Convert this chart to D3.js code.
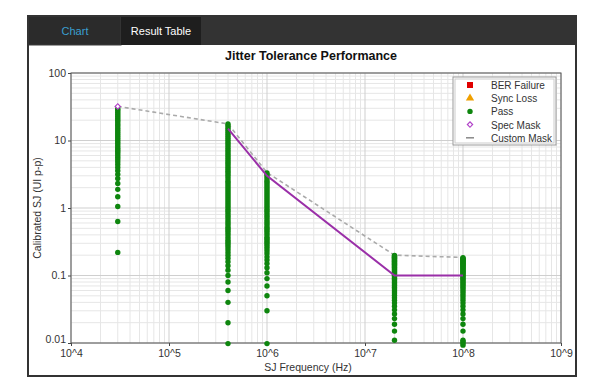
<!DOCTYPE html>
<html><head><meta charset="utf-8">
<script src="https://cdn.jsdelivr.net/npm/d3@7"></script>
<style>
html,body{margin:0;padding:0;background:#fff;}
text{font-family:"Liberation Sans",Arial,sans-serif;}
</style></head>
<body><svg id="c" width="601" height="383"></svg>
<script>
// ---- data ----
const frequencies = [3e4, 4e5, 1e6, 2e7, 1e8];
const passCol1 = [0.22,0.63,1.05,1.47,1.89,2.31,2.73,3.15,3.57,3.99,4.41,4.83,5.25,5.67,6.09,6.51,6.93,7.35,7.8,8.4,9,9.6,10.3,11,11.8,12.6,13.5,14.4,15.4,16.5,17.6,18.8,20,21.4,22.9,24.5,26.2,28,29.6];
const passCol2 = [0.0098,0.02,0.04,0.06,0.08,0.10,0.12,0.14,0.16,0.18,0.20,0.22,0.24,0.26,0.28,0.30,0.32,0.34,0.37,0.4,0.43,0.46,0.49,0.52,0.56,0.6,0.64,0.69,0.74,0.79,0.85,0.91,0.97,1.04,1.11,1.19,1.27,1.36,1.46,1.56,1.67,1.79,1.92,2.05,2.2,2.35,2.5,2.7,2.9,3.1,3.3,3.5,3.75,4,4.3,4.6,4.9,5.25,5.6,6,6.4,6.85,7.3,7.8,8.4,9,9.6,10.3,11,11.8,12.6,13.5,14.4,15.4,16.5,17.6];
const passCol3 = [0.0098,0.03,0.05,0.07,0.09,0.11,0.13,0.15,0.17,0.19,0.21,0.23,0.25,0.27,0.29,0.31,0.33,0.35,0.37,0.4,0.43,0.46,0.49,0.52,0.56,0.6,0.64,0.69,0.74,0.79,0.85,0.91,0.97,1.04,1.11,1.19,1.27,1.36,1.46,1.56,1.67,1.79,1.92,2.05,2.2,2.35,2.5,2.7,2.9,3.1,3.3];
const passCol4 = [0.011,0.015,0.019,0.023,0.027,0.031,0.035,0.039,0.043,0.047,0.051,0.055,0.059,0.063,0.067,0.071,0.075,0.079,0.083,0.087,0.091,0.095,0.099,0.103,0.107,0.111,0.115,0.119,0.123,0.127,0.131,0.135,0.139,0.143,0.147,0.151,0.155,0.159,0.163,0.167,0.171,0.175,0.179,0.183,0.187,0.191,0.195,0.199];
const passCol5 = [0.0093,0.0099,0.0105,0.011,0.015,0.019,0.023,0.027,0.031,0.035,0.039,0.043,0.047,0.051,0.055,0.059,0.063,0.067,0.071,0.075,0.079,0.083,0.087,0.091,0.095,0.099,0.103,0.107,0.111,0.115,0.119,0.123,0.127,0.131,0.135,0.139,0.143,0.147,0.151,0.155,0.159,0.163,0.167,0.171,0.175,0.179,0.183];
const passColumns = [passCol1, passCol2, passCol3, passCol4, passCol5];
const specMask = [32, 17.6, 3.35, 0.2, 0.185];
const customFreq = [4e5, 1e6, 2e7, 1e8];
const customMask = [15, 3, 0.1, 0.1];
const yTicks = [100, 10, 1, 0.1, 0.01];
const yTickLabels = ["100", "10", "1", "0.1", "0.01"];
const xTicks = [1e4, 1e5, 1e6, 1e7, 1e8, 1e9];
const xTickLabels = ["10^4", "10^5", "10^6", "10^7", "10^8", "10^9"];
const legendItems = ["BER Failure", "Sync Loss", "Pass", "Spec Mask", "Custom Mask"];
const tabs = ["Chart", "Result Table"];

// ---- drawing ----
const svg = d3.select("#c");
const L = 71, R = 561, T = 73, B = 343;
const x = d3.scaleLog().domain([1e4, 1e9]).range([L, R]);
const y = d3.scaleLog().domain([0.01, 100]).range([B, T]);

// frame and tabs
svg.append("rect").attr("x", 28).attr("y", 16).attr("width", 548).attr("height", 29).attr("fill", "#333");
svg.append("rect").attr("x", 28).attr("y", 16).attr("width", 93).attr("height", 29).attr("fill", "#2b2b2b").attr("stroke", "#3c3c3c");
svg.append("rect").attr("x", 121).attr("y", 16).attr("width", 80).attr("height", 29).attr("fill", "#1e1e1e");
svg.append("text").attr("x", 75).attr("y", 35).attr("text-anchor", "middle").attr("font-size", 11).attr("fill", "#3a9fd0").text(tabs[0]);
svg.append("text").attr("x", 161).attr("y", 35).attr("text-anchor", "middle").attr("font-size", 11).attr("fill", "#fff").text(tabs[1]);
svg.append("rect").attr("x", 28).attr("y", 16).attr("width", 548).attr("height", 360).attr("fill", "none").attr("stroke", "#333").attr("stroke-width", 2);

// title
svg.append("text").attr("x", 311).attr("y", 60).attr("text-anchor", "middle").attr("font-size", 12.5).attr("font-weight", "bold").attr("fill", "#111").text("Jitter Tolerance Performance");

// grid
const g = svg.append("g");
const minorX = [], minorY = [];
for (let e = 4; e < 9; e++) for (let m = 2; m <= 9; m++) minorX.push(m * Math.pow(10, e));
for (let e = -2; e < 2; e++) for (let m = 2; m <= 9; m++) minorY.push(m * Math.pow(10, e));
g.selectAll(".mx").data(minorX).join("line").attr("x1", d => x(d)).attr("x2", d => x(d)).attr("y1", T).attr("y2", B).attr("stroke", "#e6e6e6");
g.selectAll(".my").data(minorY).join("line").attr("y1", d => y(d)).attr("y2", d => y(d)).attr("x1", L).attr("x2", R).attr("stroke", "#e6e6e6");
g.selectAll(".Mx").data(xTicks).join("line").attr("x1", d => x(d)).attr("x2", d => x(d)).attr("y1", T).attr("y2", B).attr("stroke", "#cfcfcf");
g.selectAll(".My").data(yTicks).join("line").attr("y1", d => y(d)).attr("y2", d => y(d)).attr("x1", L).attr("x2", R).attr("stroke", "#cfcfcf");

// axes
const xAxis = d3.axisBottom(x).tickValues(xTicks).tickFormat((d, i) => xTickLabels[i]).tickSize(3).tickPadding(4);
const yAxis = d3.axisLeft(y).tickValues(yTicks).tickFormat((d, i) => yTickLabels[i]).tickSize(3).tickPadding(2);
const ax = svg.append("g").attr("transform", `translate(0,${B})`).call(xAxis);
const ay = svg.append("g").attr("transform", `translate(${L},0)`).call(yAxis);
[ax, ay].forEach(a => {
  a.select(".domain").remove();
  a.selectAll("line").attr("stroke", "#444");
  a.selectAll("text").attr("font-size", 10.5).attr("fill", "#333").attr("font-family", "'Liberation Sans',Arial,sans-serif");
});
ay.selectAll("text").filter((d) => d === 0.01).attr("dy", "-0.05em");
svg.append("rect").attr("x", L).attr("y", T).attr("width", R - L).attr("height", B - T).attr("fill", "none").attr("stroke", "#555");

svg.append("text").attr("x", 308).attr("y", 371).attr("text-anchor", "middle").attr("font-size", 10.5).attr("fill", "#333").text("SJ Frequency (Hz)");
svg.append("text").attr("transform", "translate(41,208) rotate(-90)").attr("text-anchor", "middle").attr("font-size", 10.5).attr("fill", "#333").text("Calibrated SJ (UI p-p)");

// spec mask dashed
const line = d3.line().x(d => x(d[0])).y(d => y(d[1]));
svg.append("path").attr("d", line(frequencies.map((f, i) => [f, specMask[i]]))).attr("fill", "none").attr("stroke", "#aaa").attr("stroke-width", 1.6).attr("stroke-dasharray", "4,3");

// pass points
const pts = [];
passColumns.forEach((col, i) => col.forEach(v => pts.push([frequencies[i], v])));
svg.append("g").selectAll("circle").data(pts).join("circle").attr("cx", d => x(d[0])).attr("cy", d => y(d[1])).attr("r", 2.7).attr("fill", "#0e860e");

// custom mask solid
svg.append("path").attr("d", line(customFreq.map((f, i) => [f, customMask[i]]))).attr("fill", "none").attr("stroke", "#9a2fa8").attr("stroke-width", 2);

// spec mask diamonds (open, square rotated)
const dsym = d3.symbol().type(d3.symbolSquare).size(14);
svg.append("g").selectAll("path").data([[frequencies[0], specMask[0]]]).join("path")
  .attr("d", dsym).attr("transform", d => `translate(${x(d[0])},${y(d[1])}) rotate(45)`).attr("fill", "#fff").attr("stroke", "#b040c8").attr("stroke-width", 1.2);

// legend
const lg = svg.append("g");
lg.append("rect").attr("x", 453).attr("y", 77).attr("width", 103).attr("height", 68).attr("fill", "#fff").attr("stroke", "#999");
lg.append("rect").attr("x", 455).attr("y", 79).attr("width", 99).attr("height", 64).attr("fill", "none").attr("stroke", "#ccc");
legendItems.forEach((t, i) => {
  const cy = 85 + i * 13.2;
  lg.append("text").attr("x", 491).attr("y", cy + 4).attr("font-size", 10).attr("fill", "#333").text(t);
});
const mx = 470;
lg.append("rect").attr("x", mx - 3).attr("y", 85 - 3).attr("width", 6).attr("height", 6).attr("fill", "#e00000");
lg.append("path").attr("d", d3.symbol().type(d3.symbolTriangle).size(30)).attr("transform", `translate(${mx},${85 + 13.2})`).attr("fill", "#f0a000");
lg.append("circle").attr("cx", mx).attr("cy", 85 + 26.4).attr("r", 2.7).attr("fill", "#0e860e");
lg.append("path").attr("d", dsym).attr("transform", `translate(${mx},${85 + 39.6}) rotate(45)`).attr("fill", "#fff").attr("stroke", "#b040c8").attr("stroke-width", 1.2);
lg.append("line").attr("x1", mx - 4).attr("x2", mx + 4).attr("y1", 85 + 52.8).attr("y2", 85 + 52.8).attr("stroke", "#888").attr("stroke-width", 1.5);
</script></body></html>
